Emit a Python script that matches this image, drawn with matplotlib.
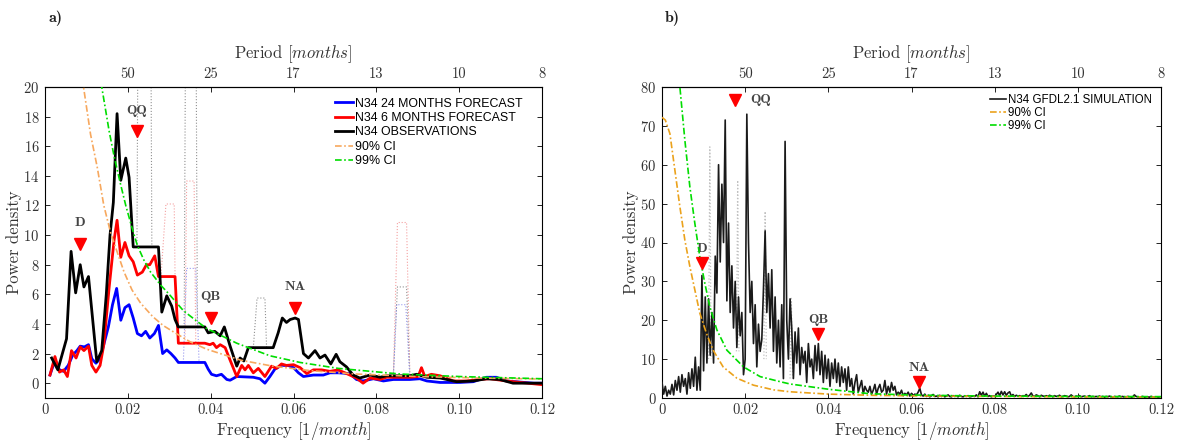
import numpy as np
import matplotlib
matplotlib.use('Agg')
import matplotlib.pyplot as plt

plt.rcParams['font.family'] = 'cmr10'
plt.rcParams['mathtext.fontset'] = 'cm'
plt.rcParams['axes.formatter.use_mathtext'] = True

# ---- panel a) data ----
obs_f = [0.0016, 0.0031, 0.0052, 0.0063, 0.0074, 0.0085, 0.0094, 0.0105, 0.0125, 0.0137, 0.0148, 0.0157, 0.0165,
         0.0174, 0.0183, 0.0195, 0.0203, 0.0213, 0.0274, 0.0282, 0.0294, 0.0306, 0.0314, 0.0322, 0.0386, 0.0394,
         0.0410, 0.0423, 0.0433, 0.0447, 0.0463, 0.0471, 0.0480, 0.0491, 0.0551, 0.0563, 0.0573, 0.0583, 0.0592,
         0.0604, 0.0612, 0.0624, 0.0636, 0.0652, 0.0664, 0.0676, 0.0690, 0.0703, 0.0712, 0.0728, 0.0744, 0.0760,
         0.0785, 0.0809, 0.0825, 0.0881, 0.0897, 0.0922, 0.0954, 0.0994, 0.1034, 0.1066, 0.1098, 0.1130, 0.1200]
obs_v = [1.7, 0.9, 3.0, 8.9, 6.1, 8.0, 6.5, 7.2, 1.45, 2.2, 6.0, 10.0, 12.2,
         18.2, 13.7, 15.2, 13.9, 9.2, 9.2, 4.8, 5.9, 5.2, 4.3, 3.8, 3.8, 3.4,
         3.5, 3.2, 3.8, 2.5, 1.15, 1.7, 1.5, 2.4, 2.4, 3.4, 4.4, 4.1, 4.3,
         4.4, 4.3, 2.0, 1.7, 2.2, 1.7, 1.9, 1.3, 1.95, 1.45, 1.1, 0.55, 0.35,
         0.55, 0.4, 0.5, 0.5, 0.6, 0.4, 0.35, 0.1, 0.15, 0.3, 0.25, 0.0, 0.0]

fc6_f = [0.0012, 0.0024, 0.0035, 0.0045, 0.0054, 0.0064, 0.0075, 0.0085, 0.0094, 0.0105, 0.0113, 0.0123, 0.0133,
         0.0142, 0.0155, 0.0167, 0.0174, 0.0183, 0.0193, 0.0203, 0.0213, 0.0223, 0.0235, 0.0245, 0.0253, 0.0265,
         0.0274, 0.0314, 0.0322, 0.0386, 0.0398, 0.0406, 0.0414, 0.0423, 0.0435, 0.0447, 0.0463, 0.0475, 0.0483,
         0.0491, 0.0503, 0.0515, 0.0531, 0.0547, 0.0559, 0.0571, 0.0583, 0.0600, 0.0616, 0.0632, 0.0648, 0.0668,
         0.0688, 0.0708, 0.0720, 0.0752, 0.0768, 0.0785, 0.0809, 0.0825, 0.0881, 0.0901, 0.0909, 0.0917, 0.0933,
         0.0954, 0.0986, 0.1018, 0.1050, 0.1074, 0.1114, 0.1200]
fc6_v = [0.55, 1.8, 0.75, 0.9, 0.45, 2.2, 1.7, 2.45, 2.2, 2.5, 1.2, 0.75, 1.2,
         2.6, 6.5, 9.7, 11.0, 8.5, 9.5, 8.6, 8.2, 7.3, 7.5, 8.0, 8.0, 8.6,
         7.2, 7.2, 2.7, 2.7, 2.6, 2.7, 2.4, 2.6, 2.4, 1.55, 0.45, 1.2, 0.9,
         1.2, 0.7, 1.0, 0.45, 1.15, 1.0, 1.3, 1.2, 1.25, 1.05, 0.65, 0.9, 0.9,
         0.8, 0.9, 0.75, 0.35, 0.0, 0.35, 0.25, 0.4, 0.4, 0.45, 1.05, 0.45, 0.6,
         0.5, 0.15, 0.15, 0.25, 0.3, 0.15, -0.1]

fc24_f = [0.0012, 0.0024, 0.0035, 0.0045, 0.0056, 0.0067, 0.0077, 0.0085, 0.0095, 0.0105, 0.0113, 0.0123, 0.0133,
          0.0153, 0.0163, 0.0173, 0.0183, 0.0193, 0.0203, 0.0213, 0.0223, 0.0233, 0.0243, 0.0253, 0.0264, 0.0274,
          0.0284, 0.0294, 0.0304, 0.0314, 0.0322, 0.0386, 0.0394, 0.0402, 0.0414, 0.0426, 0.0439, 0.0447, 0.0463,
          0.0503, 0.0519, 0.0531, 0.0543, 0.0555, 0.0571, 0.0587, 0.0600, 0.0612, 0.0624, 0.0648, 0.0672, 0.0688,
          0.0708, 0.0736, 0.0752, 0.0768, 0.0793, 0.0817, 0.0841, 0.0881, 0.0905, 0.0922, 0.0954, 0.1002, 0.1034,
          0.1066, 0.1090, 0.1114, 0.1180, 0.1200]
fc24_v = [0.55, 1.55, 0.9, 0.8, 1.2, 1.9, 2.2, 2.5, 2.45, 2.6, 1.65, 1.35, 1.65,
          3.8, 5.3, 6.4, 4.25, 5.1, 5.3, 4.4, 3.35, 3.2, 3.5, 3.05, 3.35, 3.9,
          2.0, 2.25, 2.0, 1.7, 1.4, 1.4, 0.95, 0.6, 0.5, 0.6, 0.25, 0.2, 0.45,
          0.4, 0.3, 0.0, 0.45, 0.95, 1.2, 1.2, 1.05, 0.7, 0.45, 0.55, 0.55, 0.7,
          0.7, 0.65, 0.25, 0.15, 0.3, 0.15, 0.25, 0.25, 0.3, 0.15, 0.05, 0.05, 0.1,
          0.4, 0.4, 0.15, 0.0, 0.0]

ci90a_f = [0.0075, 0.0093, 0.011, 0.0126, 0.0142, 0.0159, 0.0175, 0.0191, 0.021, 0.0231, 0.026,
           0.0285, 0.0311, 0.035, 0.039, 0.0473, 0.055, 0.064, 0.075, 0.09, 0.105, 0.12]
ci90a_v = [26, 20, 16.8, 14.6, 12.0, 10.1, 8.8, 7.5, 6.3, 5.4, 4.5,
           3.9, 3.45, 2.8, 2.3, 1.55, 1.15, 0.85, 0.62, 0.45, 0.35, 0.28]
ci99a_f = [0.0125, 0.0137, 0.0155, 0.0167, 0.0181, 0.0195, 0.0209, 0.0223, 0.0239, 0.0255, 0.028,
           0.030, 0.0334, 0.0366, 0.039, 0.0463, 0.0543, 0.0616, 0.0708, 0.0857, 0.10, 0.12]
ci99a_v = [23, 20, 17.0, 15.3, 13.6, 12.0, 10.6, 9.3, 8.3, 7.5, 6.6,
           6.0, 4.9, 4.2, 3.7, 2.7, 1.85, 1.4, 1.0, 0.62, 0.45, 0.3]

# dotted boxes (gap segments) : (freqs, values)
pink_boxes = [([0.0280, 0.0292, 0.0312, 0.0314], [7.2, 12.1, 12.1, 7.2]),
              ([0.0338, 0.0342, 0.0360, 0.0364], [2.7, 13.65, 13.65, 2.7]),
              ([0.0841, 0.0851, 0.0873, 0.0881], [0.4, 10.85, 10.85, 0.4])]
grey_boxes = [([0.0222, 0.0227, 0.0253, 0.0258], [9.2, 40, 40, 9.2]),
              ([0.0336, 0.0342, 0.0362, 0.0368], [3.8, 40, 40, 3.8]),
              ([0.0503, 0.0512, 0.0531, 0.0535], [2.4, 5.75, 5.75, 2.4]),
              ([0.0841, 0.0851, 0.0873, 0.0881], [0.5, 6.5, 6.5, 0.5])]
blue_boxes = [([0.0334, 0.0342, 0.0364, 0.0372], [1.4, 7.75, 7.75, 1.4]),
              ([0.0841, 0.0849, 0.0871, 0.0881], [0.25, 5.3, 5.3, 0.25])]

marks_a = ['D', 'QQ', 'QB', 'NA']
marks_a_f = [0.0085, 0.0222, 0.0400, 0.0604]
marks_a_v = [9.4, 17.0, 4.4, 5.1]

# ---- panel b) data ----
sim_v = [4, 1, 3, 0.5, 2, 1, 3.5, 0.8, 4.5, 2,
         5.5, 1.5, 6, 3, 5, 1, 6.5, 2.5, 7.5, 3,
         10.5, 2, 8, 2, 31.5, 7, 26, 9, 25.5, 11,
         22, 9, 36.5, 27, 60, 35, 55, 40, 71.5, 25,
         45, 22, 34, 18, 30, 13, 26, 16, 22, 6,
         10, 73, 40, 22, 30, 14, 24, 8, 19, 12,
         15, 28, 43, 22, 32, 18, 33, 12, 26, 9,
         20, 8, 24, 5, 66, 20, 10, 25.5, 18, 5,
         17, 9, 18, 6, 13, 9, 12, 4, 14, 8,
         10, 5, 13.5, 7, 14, 6, 12, 4, 11, 5,
         10, 3, 9, 5, 10, 4, 9, 3, 8, 4,
         7.5, 2, 8, 3, 5, 1, 4, 6, 1.5, 3,
         4.5, 1, 3, 2, 1.5, 3, 1, 2, 3.5, 1,
         2.5, 3.5, 1.5, 2, 4.5, 1, 3, 1.5, 4, 2,
         3, 0.8, 1.5, 1, 2, 0.6, 1.2, 0.8, 1.5, 0.5,
         1.2, 0.6, 1, 0.8, 1.5, 2.5, 0.8, 0.5, 1,
         0.4, 0.7, 0.3, 0.6, 0.9, 0.4, 0.5, 0.3, 0.7, 0.4, 0.6, 0.3, 0.5, 0.8, 0.4,
         0.3, 0.6, 0.4, 0.5, 0.3, 0.7, 0.4, 0.3, 0.5, 0.4, 0.6, 0.3, 0.4, 0.5,
         0.4, 0.8, 0.3, 1.6, 0.7, 1.5, 0.5, 1.2, 0.4, 0.6, 0.3, 0.5,
         0.4, 0.9, 1.5, 0.6, 1.7, 0.8, 1.6, 0.7, 1.3, 1.6, 0.5, 0.9, 0.4, 0.7, 0.5, 0.6,
         0.4, 0.6, 0.5, 0.9, 0.4, 0.7, 1.3, 0.5, 0.4, 0.8, 0.6, 0.3, 0.7, 0.5, 0.4,
         0.6, 0.4, 0.7, 0.5, 0.3, 0.6, 0.4, 0.5, 0.7, 0.3, 0.4, 0.6, 0.5, 0.3, 0.4,
         0.8, 0.4, 0.3, 0.5, 0.4, 0.6, 0.3, 0.4, 0.5, 0.3, 0.4, 0.6, 0.3, 0.4, 0.3,
         0.4, 0.3, 0.5, 0.3, 0.4, 0.2, 0.4, 0.3, 0.5, 0.3, 0.2, 0.4, 0.3, 0.3, 0.5,
         0.3, 0.4, 0.2, 0.3, 0.4, 0.3, 0.2, 0.3, 0.8, 0.4, 0.3, 0.2, 0.3, 0.4, 0.2,
         0.3, 0.3, 0.2, 0.4, 0.3, 0.2, 0.3, 0.2, 0.3, 0.2]
sim_f = np.linspace(0, 0.0004 * (len(sim_v) - 1), len(sim_v))

grey_spikes = [([0.0112, 0.0115, 0.0118], [10, 64.6, 10]),
               ([0.0179, 0.0182, 0.0185], [12, 56, 12]),
               ([0.0245, 0.0248, 0.0251], [10, 48, 10]),
               ([0.0308, 0.0311, 0.0314], [5, 26, 5])]

ci90b_f = [0.0, 0.0008, 0.0019, 0.0031, 0.0043, 0.0055, 0.0067, 0.0079, 0.0091, 0.0107, 0.0123,
           0.0147, 0.018, 0.022, 0.0268, 0.0308, 0.04, 0.05, 0.06, 0.08, 0.10, 0.12]
ci90b_v = [72.2, 71.5, 68, 58.6, 49.2, 40.6, 33.8, 27.8, 21.8, 16.6, 12.3,
           8.0, 5.1, 3.3, 2.1, 1.6, 1.0, 0.7, 0.55, 0.4, 0.3, 0.25]
ci99b_f = [0.0035, 0.0043, 0.0055, 0.0067, 0.0079, 0.0091, 0.0103, 0.0115, 0.0132, 0.0156, 0.0196,
           0.0236, 0.0284, 0.0308, 0.0404, 0.05, 0.0596, 0.07, 0.08, 0.10, 0.12]
ci99b_v = [90, 80, 66.3, 54.3, 44.9, 36.3, 29.5, 23.5, 17.5, 12.3, 8.0,
           5.5, 4.2, 3.6, 2.2, 1.1, 0.8, 0.6, 0.5, 0.4, 0.35]

marks_b = ['D', 'QQ', 'QB', 'NA']
marks_b_f = [0.0096, 0.0176, 0.0375, 0.0619]
marks_b_v = [34.7, 76.6, 16.5, 4.2]

freq_ticks = [0, 0.02, 0.04, 0.06, 0.08, 0.10, 0.12]
freq_labels = ['0', '0.02', '0.04', '0.06', '0.08', '0.10', '0.12']
period_ticks = [0.02, 0.04, 0.06, 0.08, 0.10, 0.12]
period_labels = ['50', '25', '17', '13', '10', '8']

W, H = 1188, 442
fig = plt.figure(figsize=(W / 100, H / 100), dpi=100)
axA = fig.add_axes([45 / W, 44 / H, 497 / W, 311 / H])
axB = fig.add_axes([662 / W, 44 / H, 499 / W, 311 / H])

txt_col = '#333333'
dashdot = (0, (4, 1.5, 1, 1.5))


def style_axis(ax, ylim, yticks):
    ax.set_xlim(0, 0.12)
    ax.set_ylim(*ylim)
    ax.set_xticks(freq_ticks)
    ax.set_xticklabels(freq_labels)
    ax.set_yticks(yticks)
    ax.tick_params(direction='in', length=3.5, width=0.6, labelsize=10.5, labelcolor=txt_col,
                   right=True, top=False, pad=4)
    for s in ax.spines.values():
        s.set_linewidth(0.8)
    ax.set_xlabel('Frequency [$1/month$]', fontsize=12, color=txt_col, labelpad=2)
    ax.set_ylabel('Power density', fontsize=12, color=txt_col, labelpad=1)
    sec = ax.secondary_xaxis('top')
    sec.set_xticks(period_ticks)
    sec.set_xticklabels(period_labels)
    sec.tick_params(direction='in', length=3.5, width=0.6, labelsize=10.5, labelcolor=txt_col, pad=4)
    sec.set_xlabel('Period [$months$]', fontsize=12, color=txt_col, labelpad=7)


# panel a
for bf, bv in pink_boxes:
    axA.plot(bf, bv, ls=':', lw=0.8, color='#f4a0a0', zorder=1)
for bf, bv in grey_boxes:
    axA.plot(bf, bv, ls=':', lw=0.8, color='#909090', zorder=1)
for bf, bv in blue_boxes:
    axA.plot(bf, bv, ls=':', lw=0.8, color='#9a9af0', zorder=1)
axA.plot(fc24_f, fc24_v, color='#0000ff', lw=2, label='N34 24 MONTHS FORECAST', zorder=3)
axA.plot(fc6_f, fc6_v, color='#ff0000', lw=2, label='N34 6 MONTHS FORECAST', zorder=3)
axA.plot(obs_f, obs_v, color='black', lw=2, label='N34 OBSERVATIONS', zorder=4)
axA.plot(ci90a_f, ci90a_v, color='#f7a85e', lw=1.2, ls=dashdot, label='90% CI', zorder=5)
axA.plot(ci99a_f, ci99a_v, color='#00dd00', lw=1.2, ls=dashdot, label='99% CI', zorder=5)
axA.plot(marks_a_f, marks_a_v, ls='none', marker='v', ms=9, color='#ff0000', zorder=6)
for lab, mf, mv in zip(marks_a, marks_a_f, marks_a_v):
    axA.annotate(lab, (mf, mv), xytext=(0, 15), textcoords='offset points', ha='center', va='center',
                 fontfamily='cmb10', fontsize=10, color='#444444')
style_axis(axA, (-1, 20), range(0, 21, 2))
axA.legend(loc='upper right', bbox_to_anchor=(0.975, 0.99), frameon=False, handlelength=1.4,
           handletextpad=0.15, labelspacing=0.2, borderaxespad=0.2,
           prop={'family': 'Liberation Sans', 'size': 8.9})

# panel b
for gf, gv in grey_spikes:
    axB.plot(gf, gv, ls=':', lw=0.9, color='#c0c0c0', zorder=1)
axB.plot(sim_f, sim_v, color='#1a1a1a', lw=1.2, label='N34 GFDL2.1 SIMULATION', zorder=3)
axB.plot(ci90b_f, ci90b_v, color='#eba21c', lw=1.2, ls=dashdot, label='90% CI', zorder=5)
axB.plot(ci99b_f, ci99b_v, color='#00dd00', lw=1.2, ls=dashdot, label='99% CI', zorder=5)
axB.plot(marks_b_f, marks_b_v, ls='none', marker='v', ms=9, color='#ff0000', zorder=6)
for lab, mf, mv in zip(marks_b, marks_b_f, marks_b_v):
    if lab == 'QQ':
        axB.annotate(lab, (mf, mv), xytext=(11, 0), textcoords='offset points', ha='left', va='center',
                     fontfamily='cmb10', fontsize=10, color='#444444')
    else:
        axB.annotate(lab, (mf, mv), xytext=(0, 10), textcoords='offset points', ha='center', va='center',
                     fontfamily='cmb10', fontsize=10, color='#444444')
style_axis(axB, (0, 80), range(0, 81, 10))
axB.legend(loc='upper right', bbox_to_anchor=(0.995, 1.0), frameon=False, handlelength=1.4,
           handletextpad=0.15, labelspacing=0.1, borderaxespad=0.2,
           prop={'family': 'Liberation Sans', 'size': 8.3})

fig.text(48 / W, 1 - 18 / H, 'a)', fontfamily='cmb10', fontsize=11.5, va='center', color='#222222')
fig.text(665 / W, 1 - 18 / H, 'b)', fontfamily='cmb10', fontsize=11.5, va='center', color='#222222')

fig.savefig('out.png', dpi=100)
